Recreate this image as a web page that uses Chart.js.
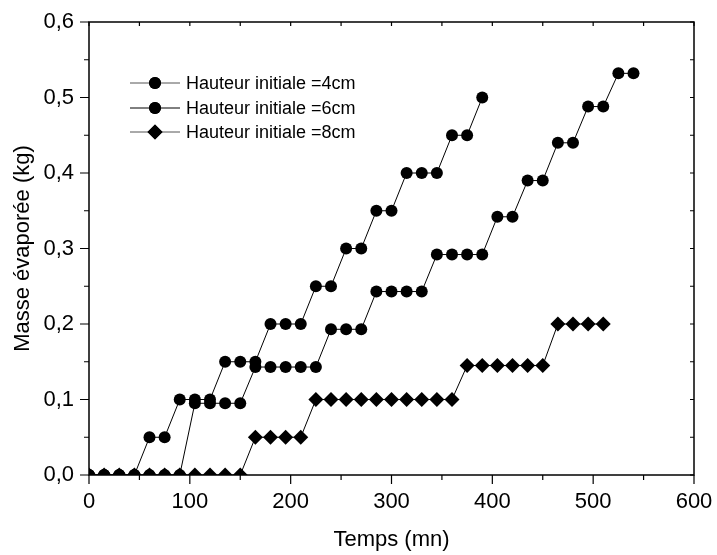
<!DOCTYPE html>
<html>
<head>
<meta charset="utf-8">
<script src="https://cdn.jsdelivr.net/npm/chart.js@4.4.0/dist/chart.umd.min.js"></script>
<style>
    body { margin: 0; background: #fff; }
    #wrap { width: 717px; height: 555px; position: relative; }
</style>
</head>
<body>
<div id="wrap"><canvas id="chartEvaporation"></canvas></div>
<script>
// Temps (mn), un relevé toutes les 15 minutes
const temps = [0, 15, 30, 45, 60, 75, 90, 105, 120, 135, 150, 165, 180, 195, 210, 225, 240, 255, 270,
               285, 300, 315, 330, 345, 360, 375, 390, 405, 420, 435, 450, 465, 480, 495, 510, 525, 540];

// Masse évaporée (kg)
const masse4cm = [0, 0, 0, 0, 0.05, 0.05, 0.1, 0.1, 0.1, 0.15, 0.15, 0.15, 0.2, 0.2, 0.2, 0.25, 0.25,
                  0.3, 0.3, 0.35, 0.35, 0.4, 0.4, 0.4, 0.45, 0.45, 0.5];
const masse6cm = [0, 0, 0, 0, 0, 0, 0, 0.095, 0.095, 0.095, 0.095, 0.143, 0.143, 0.143, 0.143, 0.143,
                  0.193, 0.193, 0.193, 0.243, 0.243, 0.243, 0.243, 0.292, 0.292, 0.292, 0.292,
                  0.342, 0.342, 0.39, 0.39, 0.44, 0.44, 0.488, 0.488, 0.532, 0.532];
const masse8cm = [0, 0, 0, 0, 0, 0, 0, 0, 0, 0, 0, 0.05, 0.05, 0.05, 0.05, 0.1, 0.1, 0.1, 0.1, 0.1,
                  0.1, 0.1, 0.1, 0.1, 0.1, 0.145, 0.145, 0.145, 0.145, 0.145, 0.145, 0.2, 0.2, 0.2, 0.2];

const legendes = ['Hauteur initiale =4cm', 'Hauteur initiale =6cm', 'Hauteur initiale =8cm'];

const POLICE = "'Liberation Sans', Arial, sans-serif";

function points(masses) {
    return masses.map((m, i) => ({ x: temps[i], y: m }));
}

function serie(label, masses, style, rayon, ordre) {
    return {
        label: label,
        data: points(masses),
        showLine: true,
        borderColor: '#000',
        borderWidth: 1,
        backgroundColor: '#000',
        pointStyle: style,
        pointRadius: rayon,
        pointBorderWidth: 0,
        order: ordre
    };
}

// pas de marge automatique autour des axes
function sansMarge(scale) {
    scale.paddingTop = 0;
    scale.paddingBottom = 0;
    scale.paddingLeft = 0;
    scale.paddingRight = 0;
}

// cadre, graduations secondaires et légende
const cadrePlugin = {
    id: 'cadre',
    afterDraw(chart) {
        const { ctx, chartArea: a, scales: { x, y } } = chart;
        ctx.save();
        ctx.strokeStyle = '#000';
        ctx.lineWidth = 1.5;
        ctx.strokeRect(a.left, a.top, a.right - a.left, a.bottom - a.top);

        ctx.lineWidth = 1.2;
        ctx.beginPath();
        for (let v = 0; v <= 600; v += 50) {
            const px = x.getPixelForValue(v);
            const len = v % 100 === 0 ? 9 : 5;
            ctx.moveTo(px, a.bottom); ctx.lineTo(px, a.bottom + len);
            ctx.moveTo(px, a.top); ctx.lineTo(px, a.top + 4);
        }
        for (let k = 0; k <= 12; k++) {
            const py = y.getPixelForValue(k * 0.05);
            const len = k % 2 === 0 ? 9 : 5;
            ctx.moveTo(a.left, py); ctx.lineTo(a.left - len, py);
            ctx.moveTo(a.right, py); ctx.lineTo(a.right - 4, py);
        }
        ctx.stroke();

        // légende
        const styles = ['circle', 'circle', 'rectRot'];
        const rayons = [6, 6, 7.5];
        const lignes = [83, 108, 132];
        ctx.font = '18px ' + POLICE;
        ctx.fillStyle = '#000';
        ctx.textBaseline = 'middle';
        ctx.textAlign = 'left';
        legendes.forEach((txt, i) => {
            const ly = lignes[i];
            ctx.lineWidth = 1;
            ctx.strokeStyle = i === 1 ? '#000' : '#555';
            ctx.beginPath();
            ctx.moveTo(130, ly); ctx.lineTo(180, ly);
            ctx.stroke();
            Chart.helpers.drawPoint(ctx, { pointStyle: styles[i], radius: rayons[i], borderWidth: 0 }, 155, ly);
            ctx.fill();
            ctx.fillText(txt, 186, ly + 1);
        });
        ctx.restore();
    }
};

new Chart(document.getElementById('chartEvaporation'), {
    type: 'scatter',
    data: {
        datasets: [
            serie(legendes[0], masse4cm, 'circle', 6, 2),
            serie(legendes[1], masse6cm, 'circle', 6, 1),
            serie(legendes[2], masse8cm, 'rectRot', 7.5, 0)
        ]
    },
    options: {
        responsive: true,
        maintainAspectRatio: false,
        animation: false,
        layout: { padding: { top: 22, right: 23, left: 0, bottom: 0 } },
        plugins: {
            legend: { display: false },
            tooltip: { enabled: false }
        },
        scales: {
            x: {
                type: 'linear',
                min: 0,
                max: 600,
                grid: { display: false, drawTicks: false },
                border: { display: false },
                ticks: {
                    stepSize: 100,
                    padding: 14,
                    color: '#000',
                    maxRotation: 0,
                    font: { family: POLICE, size: 22 }
                },
                title: {
                    display: true,
                    text: 'Temps (mn)',
                    color: '#000',
                    font: { family: POLICE, size: 22 },
                    padding: { top: 0, bottom: 2 }
                },
                afterFit(scale) {
                    scale.height = 80;
                    sansMarge(scale);
                }
            },
            y: {
                type: 'linear',
                min: 0,
                max: 0.6,
                grid: { display: false, drawTicks: false },
                border: { display: false },
                ticks: {
                    stepSize: 0.1,
                    padding: 15,
                    color: '#000',
                    font: { family: POLICE, size: 22 },
                    callback: v => v.toFixed(1).replace('.', ',')
                },
                title: {
                    display: true,
                    text: 'Masse évaporée (kg)',
                    color: '#000',
                    font: { family: POLICE, size: 22 },
                    padding: { top: 10, bottom: 0 }
                },
                afterFit(scale) {
                    scale.width = 89;
                    sansMarge(scale);
                }
            }
        }
    },
    plugins: [cadrePlugin]
});
</script>
</body>
</html>
